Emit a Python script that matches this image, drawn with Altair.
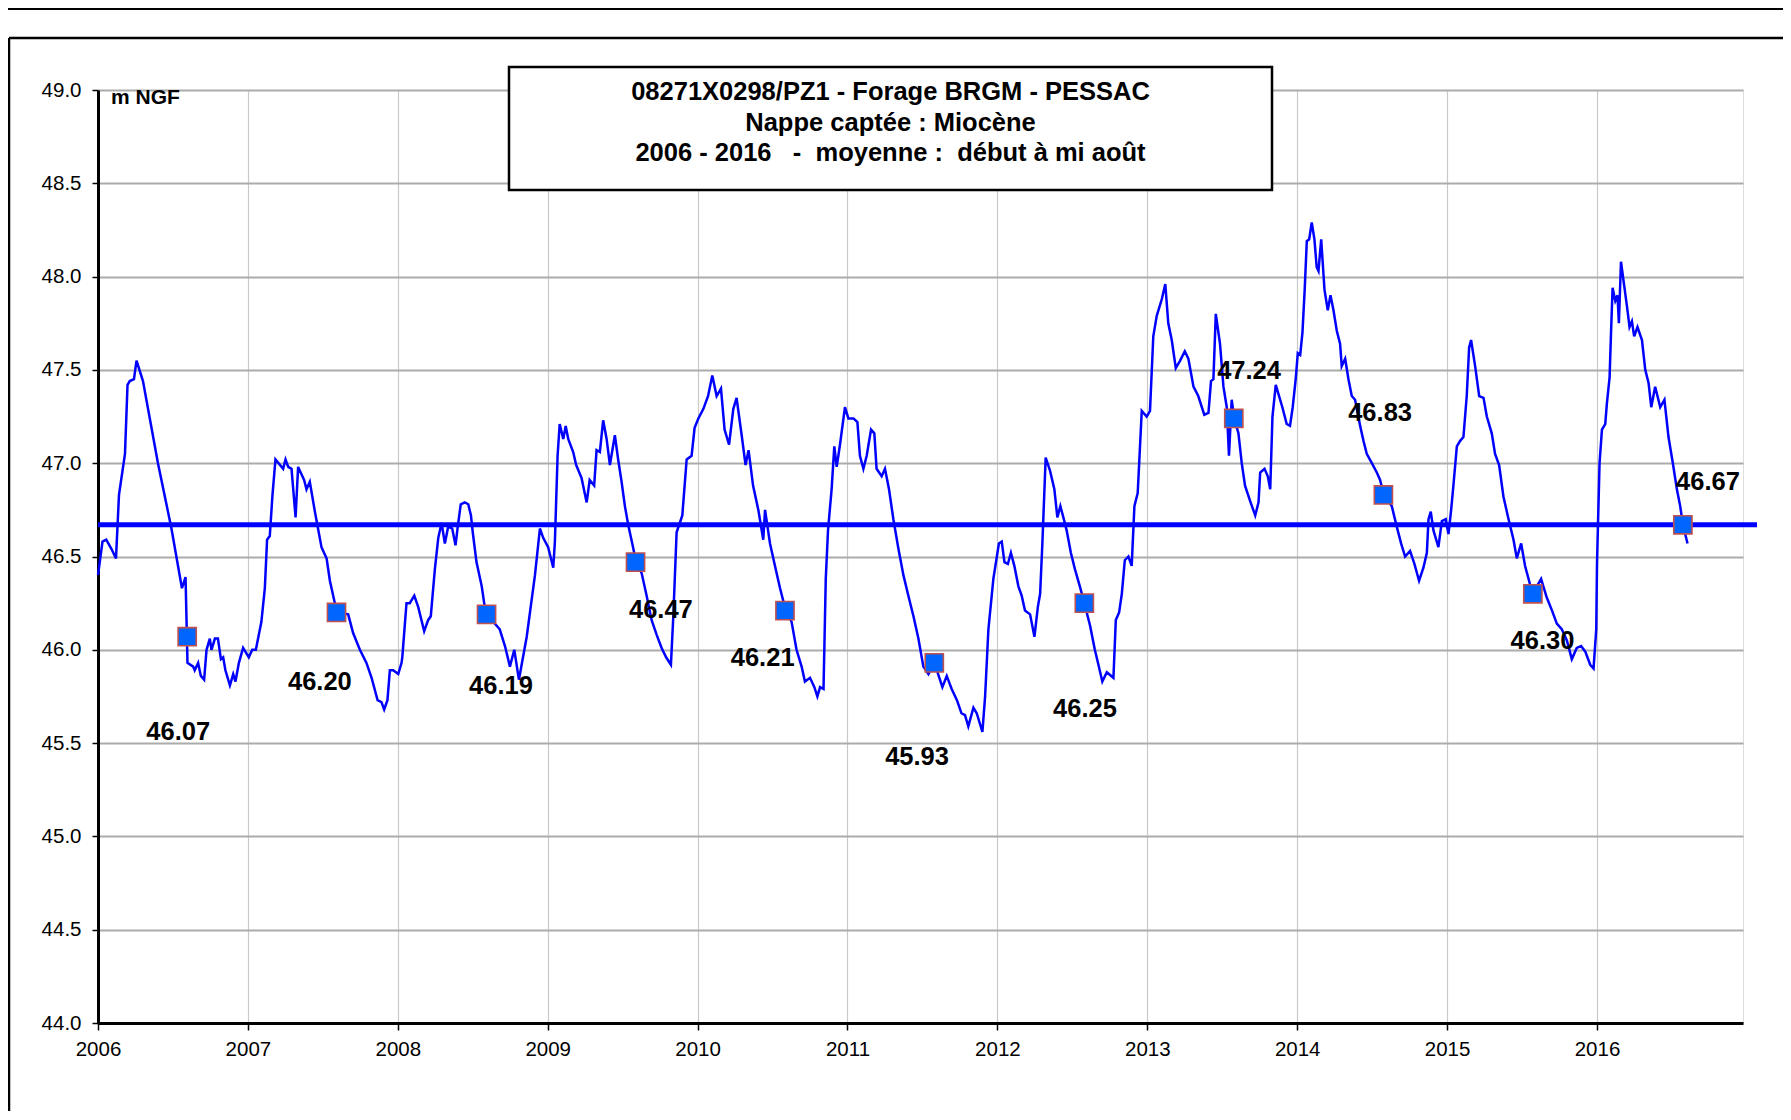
import altair as alt
import pandas as pd

# ---------------- data ----------------
T = [2006.00, 2006.03, 2006.055, 2006.09, 2006.12, 2006.14, 2006.18, 2006.197, 2006.212, 2006.24, 2006.257, 2006.30,
     2006.40, 2006.49, 2006.56, 2006.584, 2006.597, 2006.635, 2006.645, 2006.668, 2006.686, 2006.708, 2006.724, 2006.746,
     2006.757, 2006.78, 2006.80, 2006.82, 2006.835, 2006.85, 2006.88, 2006.902, 2006.917, 2006.94, 2006.968, 2007.006,
     2007.029, 2007.053, 2007.09, 2007.113, 2007.128, 2007.146, 2007.164, 2007.184, 2007.235, 2007.251, 2007.269, 2007.291,
     2007.318, 2007.335, 2007.375, 2007.391, 2007.413, 2007.447, 2007.491, 2007.525, 2007.547, 2007.58, 2007.60, 2007.669,
     2007.702, 2007.747, 2007.791, 2007.825, 2007.865, 2007.891, 2007.909, 2007.931, 2007.947, 2007.969, 2008.003, 2008.025,
     2008.03, 2008.058, 2008.08, 2008.11, 2008.136, 2008.176, 2008.203, 2008.22, 2008.247, 2008.27, 2008.292, 2008.314,
     2008.336, 2008.363, 2008.385, 2008.40, 2008.42, 2008.447, 2008.47, 2008.488, 2008.50, 2008.525, 2008.56, 2008.58,
     2008.61, 2008.637, 2008.68, 2008.715, 2008.748, 2008.777, 2008.808, 2008.86, 2008.915, 2008.948, 2008.97, 2009.003,
     2009.037, 2009.048, 2009.066, 2009.08, 2009.104, 2009.12, 2009.137, 2009.17, 2009.19, 2009.226, 2009.26, 2009.28,
     2009.31, 2009.326, 2009.348, 2009.37, 2009.393, 2009.415, 2009.448, 2009.47, 2009.493, 2009.515, 2009.537, 2009.564,
     2009.59, 2009.627, 2009.66, 2009.693, 2009.727, 2009.76, 2009.79, 2009.822, 2009.838, 2009.86, 2009.898, 2009.927,
     2009.96, 2009.98,
     2010.005, 2010.038, 2010.07, 2010.098, 2010.127, 2010.156, 2010.18, 2010.21, 2010.238, 2010.26, 2010.294, 2010.32,
     2010.34, 2010.37, 2010.405, 2010.438, 2010.45, 2010.483, 2010.516, 2010.55, 2010.585, 2010.627, 2010.66, 2010.694,
     2010.716, 2010.75, 2010.779, 2010.799, 2010.817, 2010.84, 2010.855, 2010.87, 2010.894, 2010.912, 2010.928, 2010.95,
     2010.983, 2011.006, 2011.04, 2011.066, 2011.083, 2011.106, 2011.128, 2011.157, 2011.179, 2011.194, 2011.228, 2011.25,
     2011.277, 2011.306, 2011.34, 2011.373, 2011.406, 2011.44, 2011.473, 2011.506, 2011.54, 2011.58, 2011.633, 2011.662,
     2011.695, 2011.73, 2011.76, 2011.784, 2011.806, 2011.84, 2011.862, 2011.90, 2011.918, 2011.94, 2011.973,
     2012.01, 2012.029, 2012.047, 2012.07, 2012.09, 2012.113, 2012.14, 2012.162, 2012.184, 2012.218, 2012.247, 2012.27,
     2012.285, 2012.30, 2012.322, 2012.351, 2012.38, 2012.40, 2012.42, 2012.44, 2012.462, 2012.49, 2012.518, 2012.55,
     2012.58, 2012.618, 2012.65, 2012.674, 2012.70, 2012.73, 2012.774, 2012.79, 2012.812, 2012.83, 2012.85, 2012.874,
     2012.896, 2012.914, 2012.936, 2012.963, 2012.996, 2013.018, 2013.04, 2013.063, 2013.097, 2013.12, 2013.14, 2013.163,
     2013.19, 2013.219, 2013.25, 2013.274, 2013.308, 2013.34, 2013.38, 2013.408, 2013.425, 2013.441, 2013.457, 2013.485,
     2013.508, 2013.53, 2013.545, 2013.563, 2013.58, 2013.608, 2013.63, 2013.652, 2013.685, 2013.72, 2013.742, 2013.753,
     2013.782, 2013.804, 2013.82, 2013.835, 2013.857, 2013.879, 2013.901, 2013.93, 2013.952, 2013.97, 2013.99,
     2014.004, 2014.02, 2014.035, 2014.05, 2014.064, 2014.08, 2014.097, 2014.115, 2014.13, 2014.142, 2014.16, 2014.182,
     2014.204, 2014.222, 2014.242, 2014.264, 2014.286, 2014.297, 2014.32, 2014.342, 2014.364, 2014.386, 2014.42, 2014.442,
     2014.464, 2014.498, 2014.531, 2014.553, 2014.578, 2014.631, 2014.664, 2014.693, 2014.72, 2014.753, 2014.782, 2014.813,
     2014.842, 2014.865, 2014.876, 2014.891, 2014.909, 2014.942, 2014.965, 2014.991, 2015.009, 2015.027, 2015.042, 2015.065,
     2015.087, 2015.109, 2015.131, 2015.147, 2015.16, 2015.187, 2015.214, 2015.243, 2015.265, 2015.298, 2015.32, 2015.347,
     2015.376, 2015.41, 2015.443, 2015.465, 2015.494, 2015.52, 2015.57, 2015.627, 2015.665, 2015.70, 2015.732, 2015.765,
     2015.799, 2015.832, 2015.865, 2015.894, 2015.922, 2015.955, 2015.977, 2015.995, 2016.0, 2016.017, 2016.033, 2016.055,
     2016.066, 2016.084, 2016.092, 2016.104, 2016.122, 2016.137, 2016.146, 2016.16, 2016.18, 2016.20, 2016.217, 2016.233,
     2016.248, 2016.27, 2016.30, 2016.322, 2016.344, 2016.362, 2016.388, 2016.422, 2016.45, 2016.477, 2016.506, 2016.533,
     2016.555, 2016.573, 2016.604]

V = [46.40, 46.58, 46.59, 46.54, 46.49, 46.83, 47.05, 47.42, 47.44, 47.45, 47.55, 47.44,
     47.00, 46.65, 46.33, 46.39, 45.93, 45.91, 45.89, 45.93, 45.86, 45.84, 46.00, 46.06,
     46.00, 46.06, 46.06, 45.95, 45.96, 45.89, 45.81, 45.87, 45.83, 45.93, 46.01, 45.96,
     46.00, 46.00, 46.15, 46.33, 46.59, 46.61, 46.83, 47.02, 46.97, 47.02, 46.98, 46.97,
     46.71, 46.98, 46.91, 46.86, 46.90, 46.74, 46.55, 46.49, 46.37, 46.25, 46.20, 46.19,
     46.09, 46.00, 45.93, 45.85, 45.73, 45.72, 45.68, 45.73, 45.89, 45.89, 45.87, 45.93,
     45.96, 46.25, 46.25, 46.29, 46.23, 46.10, 46.16, 46.18, 46.43, 46.60, 46.68, 46.57,
     46.66, 46.65, 46.56, 46.66, 46.78, 46.79, 46.78, 46.72, 46.63, 46.47, 46.34, 46.23,
     46.19, 46.15, 46.11, 46.02, 45.91, 46.00, 45.84, 46.07, 46.40, 46.65, 46.60, 46.55,
     46.44, 46.58, 47.04, 47.21, 47.13, 47.20, 47.13, 47.06, 46.99, 46.92, 46.79, 46.91,
     46.88, 47.07, 47.06, 47.23, 47.13, 46.99, 47.15, 47.02, 46.90, 46.77, 46.67, 46.57,
     46.47, 46.41, 46.29, 46.16, 46.08, 46.01, 45.96, 45.92, 46.18, 46.63, 46.72, 47.02,
     47.04, 47.19,
     47.24, 47.29, 47.36, 47.47, 47.36, 47.40, 47.18, 47.10, 47.29, 47.35, 47.15, 46.99,
     47.07, 46.88, 46.75, 46.59, 46.75, 46.57, 46.45, 46.33, 46.22, 46.15, 46.00, 45.91,
     45.83, 45.85, 45.80, 45.75, 45.80, 45.79, 46.38, 46.64, 46.86, 47.09, 46.98, 47.10,
     47.30, 47.24, 47.24, 47.22, 47.04, 46.97, 47.04, 47.18, 47.16, 46.97, 46.93, 46.97,
     46.86, 46.70, 46.54, 46.40, 46.29, 46.18, 46.06, 45.91, 45.87, 45.93, 45.80, 45.86,
     45.79, 45.73, 45.66, 45.65, 45.59, 45.69, 45.66, 45.56, 45.75, 46.11, 46.38,
     46.57, 46.58, 46.47, 46.46, 46.52, 46.45, 46.34, 46.29, 46.21, 46.19, 46.07, 46.23,
     46.30, 46.57, 47.03, 46.96, 46.86, 46.71, 46.77, 46.71, 46.64, 46.52, 46.43, 46.34,
     46.25, 46.13, 46.00, 45.92, 45.83, 45.88, 45.85, 46.16, 46.20, 46.30, 46.48, 46.50,
     46.45, 46.77, 46.84, 47.28, 47.25, 47.28, 47.68, 47.79, 47.88, 47.96, 47.75, 47.66,
     47.51, 47.55, 47.60, 47.56, 47.41, 47.36, 47.26, 47.27, 47.44, 47.45, 47.80, 47.64,
     47.41, 47.30, 47.04, 47.34, 47.24, 47.16, 47.00, 46.88, 46.80, 46.72, 46.79, 46.95,
     46.97, 46.93, 46.86, 47.25, 47.42, 47.36, 47.30, 47.21, 47.20, 47.30, 47.45,
     47.59, 47.58, 47.70, 47.93, 48.19, 48.20, 48.29, 48.20, 48.05, 48.03, 48.20, 47.93,
     47.82, 47.90, 47.82, 47.71, 47.64, 47.52, 47.56, 47.45, 47.36, 47.34, 47.20, 47.12,
     47.05, 47.00, 46.95, 46.91, 46.83, 46.77, 46.66, 46.57, 46.50, 46.53, 46.46, 46.37,
     46.44, 46.52, 46.70, 46.74, 46.64, 46.55, 46.69, 46.70, 46.62, 46.75, 46.88, 47.09,
     47.12, 47.14, 47.36, 47.62, 47.66, 47.52, 47.36, 47.35, 47.25, 47.16, 47.05, 46.99,
     46.82, 46.70, 46.59, 46.49, 46.57, 46.45, 46.30, 46.38, 46.28, 46.21, 46.14, 46.11,
     46.05, 45.95, 46.01, 46.02, 45.99, 45.92, 45.90, 46.11, 46.46, 47.00, 47.18, 47.21,
     47.32, 47.46, 47.66, 47.94, 47.87, 47.90, 47.75, 48.08, 47.96, 47.84, 47.73, 47.76,
     47.68, 47.73, 47.66, 47.50, 47.43, 47.30, 47.41, 47.30, 47.34, 47.14, 47.00, 46.86,
     46.77, 46.67, 46.57]

# August readings (début à mi août)
AUG_T = [2006.595, 2007.591, 2008.592, 2009.586, 2010.583, 2011.579, 2012.58, 2013.577, 2014.575, 2015.572, 2016.573]
AUG_V = [46.07, 46.20, 46.19, 46.47, 46.21, 45.93, 46.25, 47.24, 46.83, 46.30, 46.67]
# where each value's label sits (data units)
LABEL_T = [2006.535, 2007.48, 2008.688, 2009.755, 2010.434, 2011.464, 2012.584, 2013.679, 2014.553, 2015.636, 2016.74]
LABEL_V = [45.557, 45.825, 45.807, 46.214, 45.955, 45.425, 45.682, 47.495, 47.268, 46.045, 46.897]

MEAN = 46.67
YEARS = list(range(2006, 2017))
Y_TICKS = [44.0, 44.5, 45.0, 45.5, 46.0, 46.5, 47.0, 47.5, 48.0, 48.5, 49.0]
X_DOMAIN = [2006, 2016.974]
Y_DOMAIN = [44.0, 49.0]

NB = "\u00a0"
TITLE_LINES = ["08271X0298/PZ1 - Forage BRGM - PESSAC",
               "Nappe captée : Miocène",
               f"2006 - 2016 {NB} - {NB}moyenne : {NB}début à mi août"]
UNIT = "m NGF"

# ---------------- chart ----------------
W, H = 1645, 933
FONT = "Liberation Sans"
BLUE = "#0000FF"

series = pd.DataFrame({"t": T, "v": V})
aug = pd.DataFrame({"t": AUG_T, "v": AUG_V, "lt": LABEL_T, "lv": LABEL_V,
                    "label": [f"{v:.2f}" for v in AUG_V]})
one = pd.DataFrame({"k": [0]})

xscale = alt.Scale(domain=X_DOMAIN, nice=False, zero=False)
yscale = alt.Scale(domain=Y_DOMAIN, nice=False, zero=False)

xaxis = alt.Axis(values=YEARS, format="d", title=None, grid=True,
                 gridColor="#C9C9C9", gridWidth=1.2,
                 domainColor="black", domainWidth=3,
                 tickColor="black", tickSize=7, tickWidth=1.5,
                 labelFont=FONT, labelFontSize=20.5, labelColor="black",
                 labelPadding=9, labelFlush=False, labelOverlap=False)
yaxis = alt.Axis(values=Y_TICKS, format=".1f", title=None, grid=True,
                 gridColor="#ABABAB", gridWidth=2,
                 domainColor="black", domainWidth=3,
                 tickColor="black", tickSize=6, tickWidth=1.5,
                 labelFont=FONT, labelFontSize=20.5, labelColor="black",
                 labelPadding=11, labelFlush=False, labelOverlap=False)

line = alt.Chart(series).mark_line(color=BLUE, strokeWidth=2.5).encode(
    x=alt.X("t:Q", scale=xscale, axis=xaxis),
    y=alt.Y("v:Q", scale=yscale, axis=yaxis),
)

mean_rule = alt.Chart(one).mark_rule(color=BLUE, strokeWidth=5).encode(
    y=alt.datum(MEAN), x=alt.value(0), x2=alt.value(W + 14)
)

squares = alt.Chart(aug).mark_square(size=330, filled=True, fill="#0066FF", stroke="#C0504D",
                                     strokeWidth=1.6, opacity=1).encode(
    x=alt.X("t:Q", scale=xscale), y=alt.Y("v:Q", scale=yscale)
)

labels = alt.Chart(aug).mark_text(font=FONT, fontSize=25.5, fontWeight="bold", color="black",
                                  align="center", baseline="middle").encode(
    x=alt.X("lt:Q", scale=xscale), y=alt.Y("lv:Q", scale=yscale), text="label:N"
)

unit = alt.Chart(one).mark_text(font=FONT, fontSize=21, fontWeight="bold", color="black",
                                align="left", baseline="alphabetic").encode(
    x=alt.value(13), y=alt.value(14), text=alt.value(UNIT)
)

box = alt.Chart(one).mark_rect(fill="white", stroke="black", strokeWidth=2.5).encode(
    x=alt.value(411), x2=alt.value(1174), y=alt.value(-23), y2=alt.value(100)
)

title_layers = []
for txt, yy in zip(TITLE_LINES, [9.5, 40.5, 70.5]):
    title_layers.append(
        alt.Chart(one).mark_text(font=FONT, fontSize=25.5, fontWeight="bold", color="black",
                                 align="center", baseline="alphabetic").encode(
            x=alt.value(792.5), y=alt.value(yy), text=alt.value(txt)
        )
    )

# outer page frame lines
top_line = alt.Chart(one).mark_rule(color="black", strokeWidth=2).encode(
    x=alt.value(-90), x2=alt.value(W + 40), y=alt.value(-81))
frame_top = alt.Chart(one).mark_rule(color="black", strokeWidth=2.5).encode(
    x=alt.value(-89), x2=alt.value(W + 40), y=alt.value(-52))
frame_left = alt.Chart(one).mark_rule(color="black", strokeWidth=2.5).encode(
    x=alt.value(-89), y=alt.value(-52), y2=alt.value(H + 88))

chart = alt.layer(
    line, mean_rule, squares, labels, unit, box, *title_layers, top_line, frame_top, frame_left
).properties(
    width=W, height=H,
    padding={"left": 90, "top": 82, "right": 40, "bottom": 88},
    autosize=alt.AutoSizeParams(type="none"),
).configure_view(
    fill="#FFFFCC", stroke="black", strokeWidth=3
).configure(background="white")

chart.save("out.html", embed_options={"renderer": "svg", "actions": False})
